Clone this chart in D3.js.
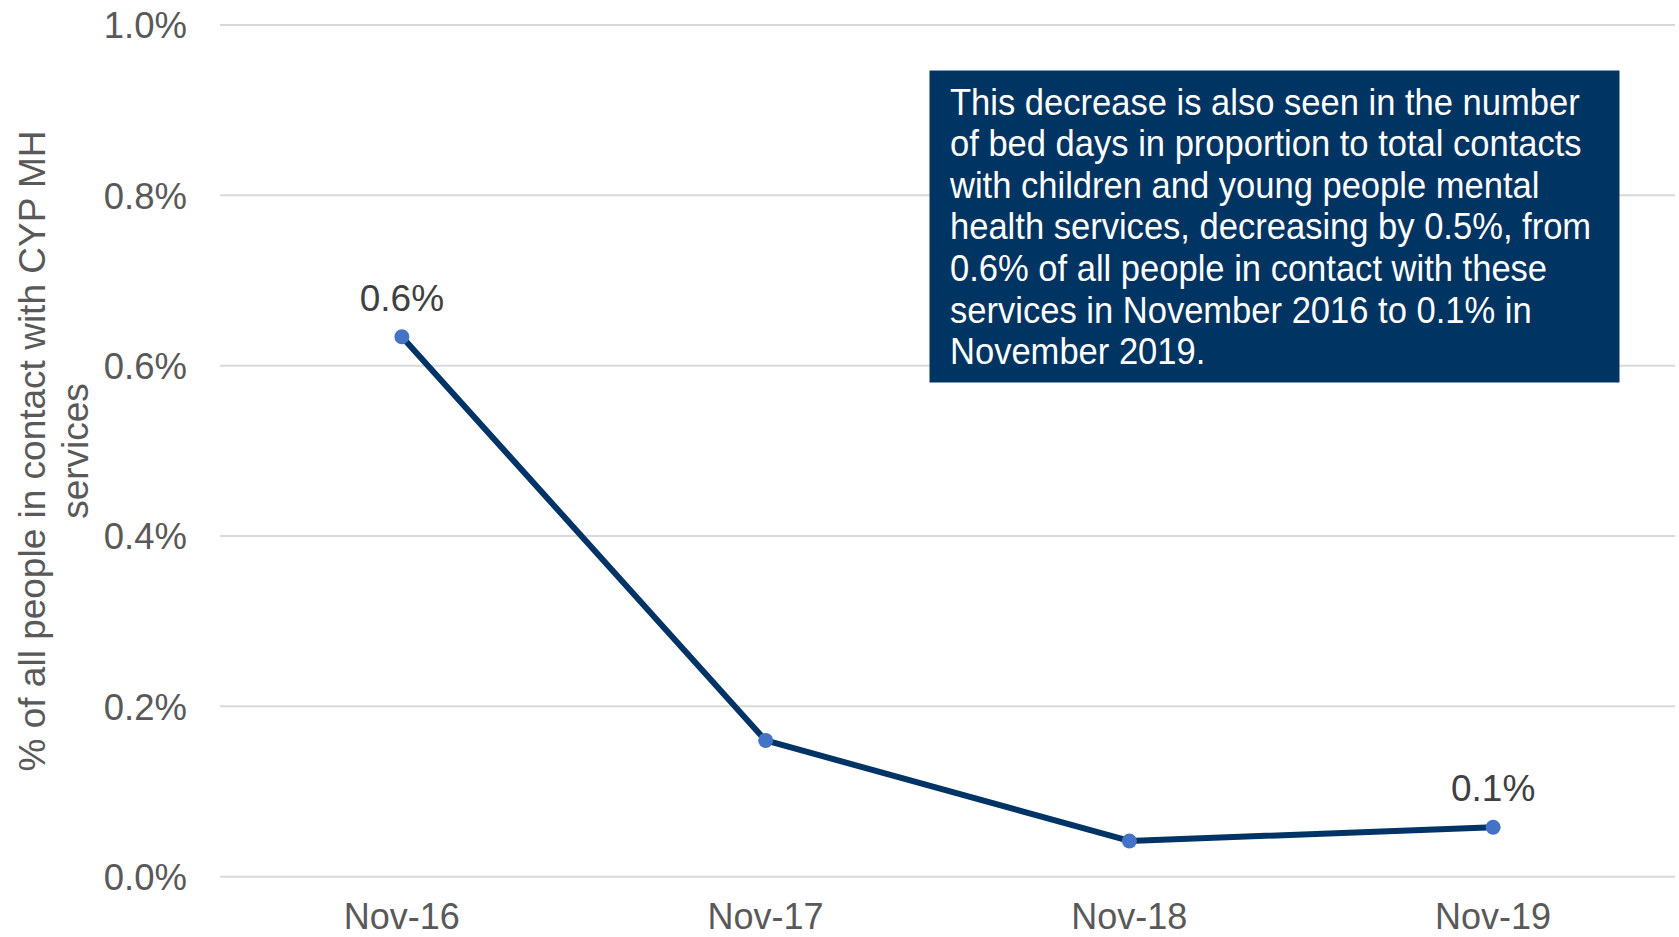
<!DOCTYPE html>
<html>
<head>
<meta charset="utf-8">
<script src="https://cdn.jsdelivr.net/npm/d3@7"></script>
<style>
  html, body { margin: 0; padding: 0; background: #ffffff; }
  svg { display: block; font-family: "Liberation Sans", Arial, sans-serif; }
</style>
</head>
<body>
<svg id="chart" width="1679" height="937"></svg>
<script>
// ---- data ----
const categories = ["Nov-16", "Nov-17", "Nov-18", "Nov-19"];
const values = [0.634, 0.160, 0.042, 0.058]; // percent
const yTicks = [0.0, 0.2, 0.4, 0.6, 0.8, 1.0];
const dataLabels = ["0.6%", "", "", "0.1%"];
const yTitleLines = ["% of all people in contact with CYP MH", "services"];
const noteLines = [
  "This decrease is also seen in the number",
  "of bed days in proportion to total contacts",
  "with children and young people mental",
  "health services, decreasing by 0.5%, from",
  "0.6% of all people in contact with these",
  "services in November 2016 to 0.1% in",
  "November 2019."
];

// ---- layout ----
const svg = d3.select("#chart");
const plot = { left: 220, right: 1675, top: 25, bottom: 876.7 };

const x = d3.scaleBand().domain(categories).range([plot.left, plot.right]).padding(0);
const y = d3.scaleLinear().domain([0, 1.0]).range([plot.bottom, plot.top]);
const cx = d => x(d) + x.bandwidth() / 2;

// gridlines
svg.append("g").selectAll("line").data(yTicks).join("line")
  .attr("x1", plot.left).attr("x2", plot.right)
  .attr("y1", d => y(d)).attr("y2", d => y(d))
  .attr("stroke", "#d9d9d9").attr("stroke-width", 2);

// y axis labels
const yAxis = d3.axisLeft(y).tickValues(yTicks).tickFormat(d => d3.format(".1f")(d) + "%").tickSize(0).tickPadding(0);
const gy = svg.append("g").attr("transform", `translate(187,0)`).call(yAxis);
gy.select(".domain").remove();
gy.selectAll("text").attr("font-size", 36.5).attr("fill", "#595959")
  .attr("font-family", "Liberation Sans, Arial, sans-serif").attr("dy", "0.35em");

// x axis labels
const xAxis = d3.axisBottom(x).tickSize(0).tickPadding(0);
const gx = svg.append("g").attr("transform", `translate(0,0)`).call(xAxis);
gx.select(".domain").remove();
gx.selectAll("text").attr("font-size", 36).attr("fill", "#595959")
  .attr("font-family", "Liberation Sans, Arial, sans-serif")
  .attr("y", 929).attr("dy", 0);

// y title
const yt = svg.append("text")
  .attr("transform", `translate(45,451) rotate(-90)`)
  .attr("text-anchor", "middle").attr("font-size", 37).attr("fill", "#595959");
yt.selectAll("tspan").data(yTitleLines).join("tspan")
  .attr("x", 0).attr("dy", (d, i) => i === 0 ? 0 : 43).text(d => d);

// line
const line = d3.line().x((d, i) => cx(categories[i])).y(d => y(d));
svg.append("path").datum(values)
  .attr("d", line).attr("fill", "none")
  .attr("stroke", "#003366").attr("stroke-width", 6).attr("stroke-linejoin", "round");

// points
svg.append("g").selectAll("circle").data(values).join("circle")
  .attr("cx", (d, i) => cx(categories[i])).attr("cy", d => y(d))
  .attr("r", 7.5).attr("fill", "#4472c4");

// data labels
svg.append("g").selectAll("text").data(values).join("text")
  .attr("x", (d, i) => cx(categories[i])).attr("y", d => y(d) - 26)
  .attr("text-anchor", "middle").attr("font-size", 37).attr("fill", "#404040")
  .text((d, i) => dataLabels[i]);

// annotation box
const box = { x: 929.5, y: 70.5, w: 690, h: 312 };
svg.append("rect").attr("x", box.x).attr("y", box.y).attr("width", box.w).attr("height", box.h)
  .attr("fill", "#003462");
const noteG = svg.append("g");
const note = noteG.append("text").attr("font-size", 36).attr("fill", "#ffffff");
note.selectAll("tspan").data(noteLines).join("tspan")
  .attr("x", 0).attr("y", (d, i) => i * 41.6).text(d => d);
// condense horizontally so the first line spans the measured width
const firstLen = note.select("tspan").node().getComputedTextLength();
const sx = 630 / firstLen;
noteG.attr("transform", `translate(950,114.6) scale(${sx},1)`);
</script>
</body>
</html>
